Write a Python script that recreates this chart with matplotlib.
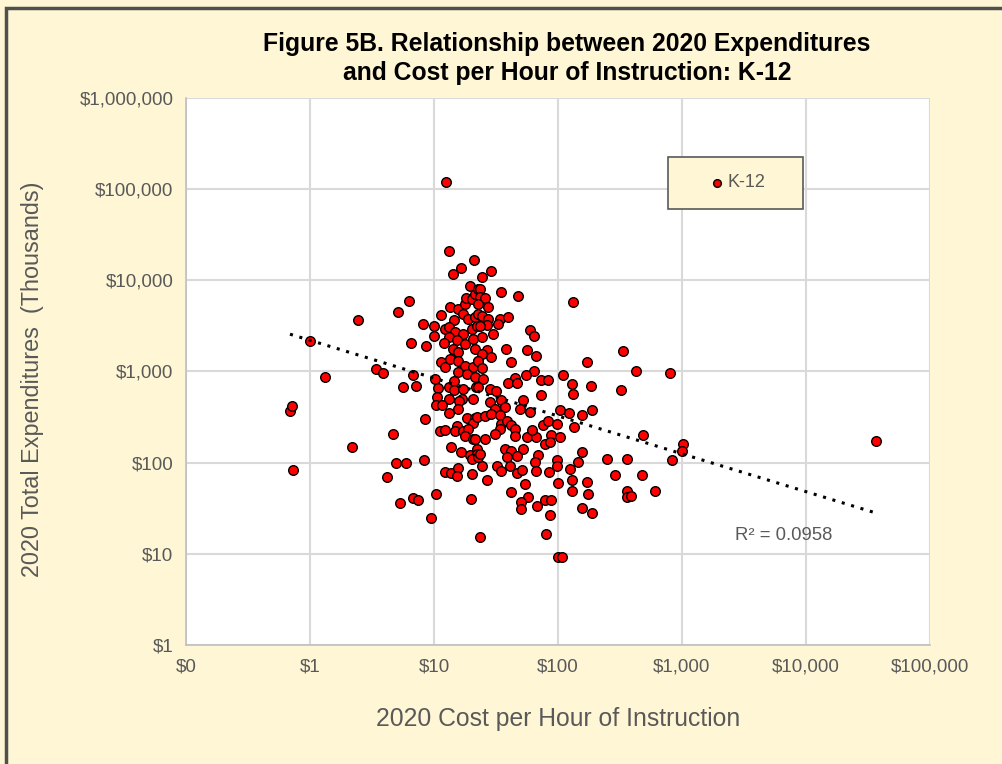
import numpy as np
import matplotlib
matplotlib.use("Agg")
import matplotlib.pyplot as plt
from matplotlib.ticker import FuncFormatter, FixedLocator, NullLocator
from matplotlib.patches import Rectangle

plt.rcParams['font.family'] = ['Liberation Sans', 'DejaVu Sans']

# cost per hour of instruction ($) and total expenditures ($ thousands)
cost = [0.69, 0.72, 0.73, 1.0, 1.33, 2.18, 2.42, 3.4, 3.9, 4.15, 4.7, 4.94, 5.13, 5.32, 6.0,
        6.3, 6.53, 6.8, 5.65, 7.16, 6.8, 7.45, 8.2, 8.62, 8.35, 8.46, 9.46, 10, 10, 10.4,
        13.1, 21, 16.6, 14.2, 19.5, 13.5, 15.7, 17.8, 18.0, 20.3, 21.4, 22.5, 11.4, 17.2, 14.6,
        18.9, 21.4, 22.7, 12.2, 13.3, 14.8, 17.2, 20.1, 22.1, 13.1, 15.2, 17.8, 20.7, 12.1, 14.3,
        15.7, 21.4, 11.5, 12.3, 13.5, 15.7, 17.8, 20.6, 22.5, 15.7, 18.3, 10.2, 10.8, 13.1, 14.5,
        14.5, 17.2, 21.4, 22.0, 10.6, 13.1, 16.7, 20.6,
        28.6, 24.2, 23.5, 23.5, 25.8, 22.7, 27.4, 34.5, 47.3, 24.5, 27.4, 27.0, 23.5, 34.1, 32.6,
        39.3, 30.1, 24.2, 59.4, 63.8, 37.9, 55.8, 66, 27, 28.8, 24.2, 22.7, 41.8, 24.2, 63.5,
        55, 45, 39.3, 46.5, 73.5, 82.5, 110, 24.9, 28.3, 31.4, 22.7, 72.5, 52.5,
        12.5,
        10.3, 11.7, 15.9, 15.7, 13.3, 11.2, 12.3, 15.2, 14.9, 17.2, 18.3, 21.4, 20.6, 18.9, 17.8,
        20.6, 13.7, 16.5, 19.5, 22.1, 22.1, 20.1, 12.3, 13.8, 15.5, 15.2, 20.3, 19.9, 23.5,
        28.3, 31, 35, 37.4, 49.4, 59.4, 104, 22.1, 25.8, 28.8, 34.1, 35, 38.5, 34.1, 31,
        42, 45, 45, 55.8, 66, 61.2, 76, 83.5, 97.5, 88.5, 78.6, 104, 86, 25.8, 21.4,
        37.4, 42, 52.5, 46.5, 38.5, 22.7, 23.5, 69, 65.3, 97.5, 97.5, 24.2, 32, 35, 41,
        46.5, 51, 66, 84.6, 27, 54.2, 99.5, 41.8, 56.8, 50.3, 50.3, 67.3, 78.6, 88.5, 86,
        80, 99.5, 108,
        133, 335, 171, 426, 800, 130, 185, 132, 322, 188, 122, 156, 135, 484, 1020,
        1000, 830, 36700, 156, 250, 360, 146, 124, 286, 478, 130, 172, 130, 175, 360,
        358, 385, 610, 156, 188]
spend = [370, 420, 83, 2150, 865, 147, 3700, 1060, 960, 69, 207, 98, 4440, 35.7, 100,
         5900, 2040, 904, 673, 690, 40.5, 39, 3280, 1920, 108, 303, 24.6, 3190, 2480, 45,
         20800, 16600, 13800, 11600, 8600, 5060, 4870, 5520, 6350, 6270, 7120, 8100, 4150, 4220, 3700,
         3720, 3910, 4300, 2940, 3060, 2700, 2590, 2940, 3190, 2380, 2190, 2010, 2280, 2070, 1770,
         1630, 1770, 1260, 1110, 1380, 1290, 1160, 1110, 1320, 980, 945, 830, 655, 673, 777,
         619, 645, 865, 673, 519, 500, 500, 500,
         12600, 11000, 8070, 6530, 6360, 5530, 5060, 7400, 6700, 4110, 3780, 3250, 3190, 3780, 3280,
         3970, 2590, 2380, 2860, 2420, 1770, 1710, 1490, 1700, 1430, 1560, 1320, 1280, 1100, 1000,
         920, 845, 757, 752, 810, 810, 920, 817, 635, 604, 673, 555, 493,
         120000,
         432, 432, 469, 390, 355, 225, 231, 251, 220, 225, 308, 308, 273, 235, 195,
         180, 147, 131, 122, 142, 125, 110, 80, 77, 87, 71, 75.5, 40, 15.3,
         460, 390, 481, 406, 390, 364, 383, 315, 323, 344, 330, 267, 290, 235, 208,
         256, 235, 194, 190, 190, 231, 256, 290, 267, 202, 161, 189, 168, 180, 183,
         142, 136, 140, 118, 115, 115, 125, 120, 101, 106, 93, 93, 93, 82, 93,
         78, 84, 82, 80, 65, 58, 60, 48, 42, 37, 30.7, 33.3, 39, 39, 26.4,
         16.7, 9.2, 9.2,
         5750, 1690, 1280, 1020, 965, 735, 700, 570, 630, 383, 353, 330, 249, 200, 160,
         136, 106, 174, 132, 111, 111, 103, 86, 73, 73, 64, 61, 49, 45.5, 49,
         42, 43, 49, 31.5, 28]

x_ticks = [0.1, 1, 10, 100, 1000, 10000, 100000]
y_ticks = [1, 10, 100, 1000, 10000, 100000, 1000000]

# power trendline as shown in the chart (y = a * x^b)
trend_a = 2200
trend_b = -0.415
r2_text = "R\u00b2 = 0.0958"

bg = '#FFF6D5'
gray = '#595959'

fig = plt.figure(figsize=(10.02, 7.64), dpi=100)
fig.patch.set_facecolor(bg)
fig.patches.append(Rectangle((0.006, -0.01), 1.1, 1.0, transform=fig.transFigure,
                             fill=False, edgecolor='#505050', linewidth=2.5))

ax = fig.add_axes([0.1856, 0.1557, 0.7425, 0.7161])
ax.set_facecolor('white')
ax.set_xscale('log')
ax.set_yscale('log')
ax.set_xlim(0.1, 100000)
ax.set_ylim(1, 1000000)

ax.xaxis.set_major_locator(FixedLocator(x_ticks))
ax.yaxis.set_major_locator(FixedLocator(y_ticks))
ax.xaxis.set_minor_locator(NullLocator())
ax.yaxis.set_minor_locator(NullLocator())
fmt = FuncFormatter(lambda v, p: "${:,.0f}".format(v))
ax.xaxis.set_major_formatter(fmt)
ax.yaxis.set_major_formatter(fmt)
ax.tick_params(length=0, labelsize=13.5, labelcolor=gray)
ax.tick_params(axis='y', pad=9)
ax.tick_params(axis='x', pad=10)
ax.grid(True, color='#D9D9D9', linewidth=1.5)
ax.set_axisbelow(True)
for s in ['top', 'right']:
    ax.spines[s].set_visible(False)
for s in ['left', 'bottom']:
    ax.spines[s].set_color('#BFBFBF')
    ax.spines[s].set_linewidth(1.2)

ax.scatter(cost, spend, s=48, c='#FF0000', edgecolors='black', linewidths=1.0,
           zorder=3, label='K-12')

tx = np.logspace(np.log10(min(cost)), np.log10(max(cost)), 100)
ax.plot(tx, trend_a * tx ** trend_b, color='black', linestyle=(0, (1, 2.2)),
        linewidth=2.2, zorder=4)

ax.text(2700, 15.8, r2_text, fontsize=13.3, color=gray, ha='left', va='center')

# legend box
ax.add_patch(Rectangle((0.648, 0.797), 0.181, 0.095, transform=ax.transAxes,
                       facecolor=bg, edgecolor='#595959', linewidth=1.2, zorder=6))
leg = ax.legend(loc='center', bbox_to_anchor=(0.740, 0.8446), frameon=False,
                fontsize=13, markerscale=0.8, handlelength=1.0, handletextpad=0.1,
                borderpad=0, borderaxespad=0)
leg.set_zorder(7)
for t in leg.get_texts():
    t.set_color(gray)

fig.text(567 / 1002, 1 - 58.5 / 764,
         "Figure 5B. Relationship between 2020 Expenditures\nand Cost per Hour of Instruction: K-12",
         ha='center', va='center', fontsize=17.8, fontweight='bold', linespacing=1.22)
fig.text(558 / 1002, 1 - 719 / 764, "2020 Cost per Hour of Instruction",
         ha='center', va='center', fontsize=17.8, color=gray)
fig.text(33 / 1002, 1 - 379 / 764, "2020 Total Expenditures  (Thousands)",
         ha='center', va='center', rotation=90, fontsize=16.8, color=gray)

fig.savefig('out.png', dpi=100, facecolor=fig.get_facecolor())
